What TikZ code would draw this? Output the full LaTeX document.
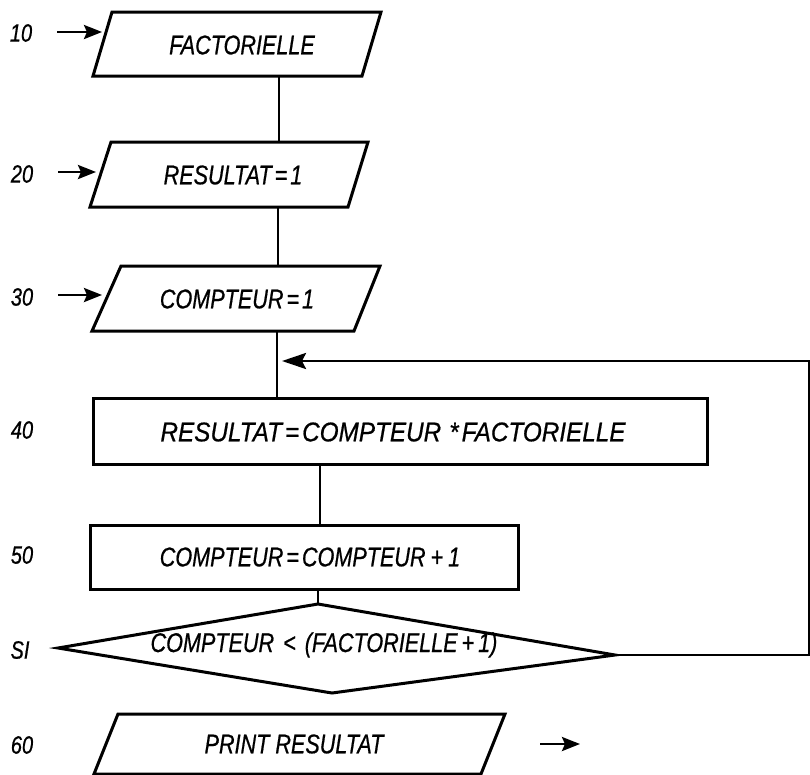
\documentclass[tikz,border=0pt]{standalone}
\usepackage{fontspec}
\newfontfamily\hv[FakeStretch=0.80,FakeBold=0.6]{Liberation Sans}
\newfontfamily\hvw[FakeStretch=0.90,FakeBold=0.6]{Liberation Sans}
\usetikzlibrary{arrows.meta}

\begin{document}
\begin{tikzpicture}[x=1pt,y=-1pt,
  txt/.style={font=\hv\itshape\fontsize{27}{30}\selectfont, inner sep=0pt},
  txtw/.style={font=\hvw\itshape\fontsize{27}{30}\selectfont, inner sep=0pt},
  lbl/.style={font=\hv\itshape\fontsize{25}{28}\selectfont, inner sep=0pt},
  frame/.style={draw, line width=3pt, line join=miter},
  box/.style={frame, rectangle, inner sep=0pt},
  link/.style={line width=2.6pt},
  arr/.style={line width=2.8pt, -{Stealth[length=18pt,width=14pt,inset=3pt]}},
  looparr/.style={line width=2.8pt, line join=miter, -{Stealth[length=24pt,width=16pt,inset=4pt]}}]

\useasboundingbox (0,0) rectangle (810,774);

% --- line numbers ---
\node[lbl] (l10) at (21,33) {10};
\node[lbl] (l20) at (22,174) {20};
\node[lbl] (l30) at (22,297) {30};
\node[lbl] (l40) at (22,430) {40};
\node[lbl] (l50) at (22,555) {50};
\node[lbl] (lsi) at (20,650) {SI};
\node[lbl] (l60) at (22,745) {60};

% --- entry arrows ---
\coordinate (a10s) at (57,32);  \coordinate (a10e) at (102,32);
\coordinate (a20s) at (58,172); \coordinate (a20e) at (96,172);
\coordinate (a30s) at (58,295); \coordinate (a30e) at (102,295);
\draw[arr] (a10s) -- (a10e);
\draw[arr] (a20s) -- (a20e);
\draw[arr] (a30s) -- (a30e);

% --- 10: FACTORIELLE (parallelogram) ---
\draw[frame] (112,12) -- (381,12) -- (362,76) -- (93,76) -- cycle;
\node[txt] (t10) at (242,45) {FACTORIELLE};
\coordinate (p1b) at (279,76);

% --- 20: RESULTAT = 1 ---
\draw[frame] (111,142) -- (368,142) -- (348,207) -- (90,207) -- cycle;
\node[txt] (t20) at (233,175) {RESULTAT\kern3pt=\kern3pt1};
\coordinate (p2t) at (279,142);
\coordinate (p2b) at (278,207);

% --- 30: COMPTEUR = 1 ---
\draw[frame] (121,266) -- (380,266) -- (354,331) -- (92,331) -- cycle;
\node[txt] (t30) at (237,299) {COMPTEUR\kern3pt=\kern3pt1};
\coordinate (p3t) at (278,266);
\coordinate (p3b) at (277,331);

% --- 40: product box ---
\node[box, minimum width=614pt, minimum height=66pt] (b40) at (400,431) {};
\node[txtw] (t40) at (393,432) {RESULTAT\kern3pt=\kern3ptCOMPTEUR\kern8pt*\kern3ptFACTORIELLE};

% --- 50: increment box ---
\node[box, minimum width=428pt, minimum height=64pt] (b50) at (304,557) {};
\node[txt] (t50) at (310,557) {COMPTEUR\kern3pt=\kern3ptCOMPTEUR\kern5pt+\kern5pt1};

% --- test (diamond) ---
\coordinate (dT) at (318,604);
\coordinate (dL) at (58,648);
\coordinate (dB) at (332,693);
\coordinate (dR) at (615,655);
\draw[frame] (dT) -- (dR) -- (dB) -- (dL) -- cycle;
\node[txt] (tsi) at (324,645) {COMPTEUR\kern9pt<\kern9pt(FACTORIELLE\kern4pt+\kern4pt1)};

% --- 60: PRINT RESULTAT ---
\draw[frame] (118,714) -- (505,714) -- (481,774) -- (94,774) -- cycle;
\node[txt] (t60) at (294,744) {PRINT RESULTAT};
\coordinate (o60s) at (540,744); \coordinate (o60e) at (580,744);
\draw[arr] (o60s) -- (o60e);

% --- connectors ---
\draw[link] (p1b) -- (p2t);
\draw[link] (p2b) -- (p3t);
\draw[link] (p3b) -- (b40.north -| p3b);
\draw[link] (b40.south -| 320,0) -- (b50.north -| 320,0);
\draw[link] (b50.south -| dT) -- (dT);

% --- loop back from the test ---
\coordinate (cB) at (809,655);
\coordinate (cT) at (809,361);
\coordinate (loopTip) at (282,361);
\draw[looparr] (dR) -- (cB) -- (cT) -- (loopTip);

\end{tikzpicture}
\end{document}
